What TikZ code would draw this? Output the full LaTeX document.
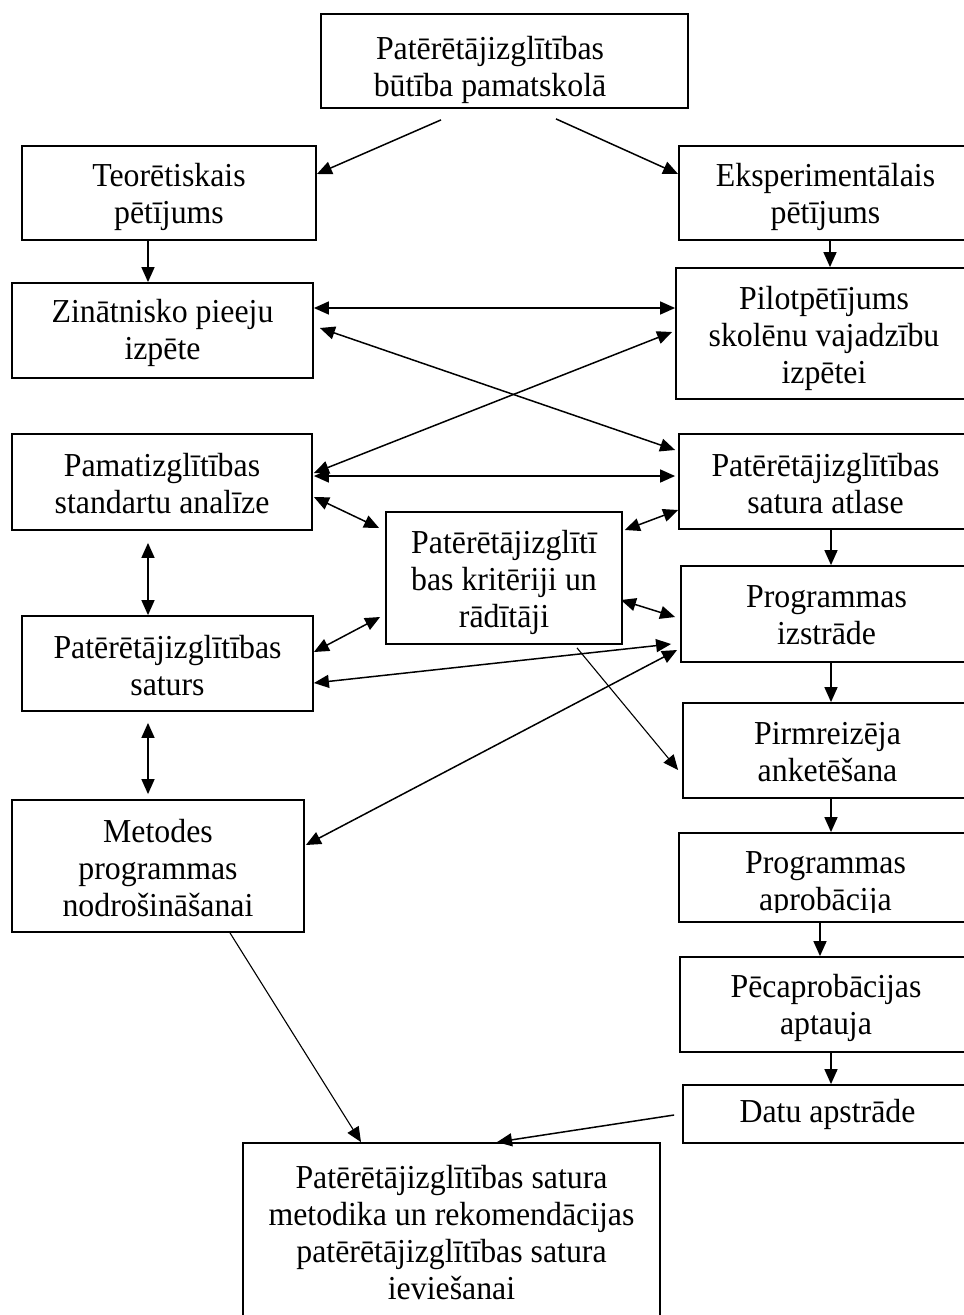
\documentclass[tikz,border=0pt]{standalone}
\usepackage{fontspec}
\setmainfont{Liberation Serif}[FakeStretch=0.95]
\usetikzlibrary{arrows.meta}
% centred block of lines whose baseline is that of its first line
\newcommand\txtblock[1]{\begin{tabular}[t]{@{}c@{}}#1\end{tabular}}
\begin{document}
\begin{tikzpicture}[x=1pt,y=-1pt,
  lbl/.style={inner sep=0pt, anchor=base,
    font=\fontsize{33.5}{37.1}\selectfont},
  box/.style={draw, line width=1.8pt, rectangle, inner sep=0pt},
  head/.tip={Triangle[length=15pt,width=13pt]},
  link/.style={line width=1.5pt, -head},
  both/.style={line width=1.5pt, head-head},
  fine/.style={line width=1.1pt, -head}]
\useasboundingbox (0,0) rectangle (964,1315);
\clip (0,0) rectangle (964,1315);

% boxes
\node[box, minimum width=367pt, minimum height=94pt]  (top)     at (504.5,61)    {};
\node[box, minimum width=294pt, minimum height=94pt]  (teor)    at (169,193)     {};
\node[box, minimum width=301pt, minimum height=95pt]  (zin)     at (162.5,330.5) {};
\node[box, minimum width=300pt, minimum height=96pt]  (pamat)   at (162,482)     {};
\node[box, minimum width=291pt, minimum height=95pt]  (saturs)  at (167.5,663.5) {};
\node[box, minimum width=292pt, minimum height=132pt] (metodes) at (158,866)     {};
\node[box, minimum width=236pt, minimum height=132pt] (krit)    at (504,578)     {};
\node[box, minimum width=417pt, minimum height=187pt] (bottom)  at (451.5,1236.5){};
\node[box, minimum width=293pt, minimum height=94pt]  (eksp)    at (825.5,193)   {};
\node[box, minimum width=296pt, minimum height=131pt] (pilot)   at (824,333.5)   {};
\node[box, minimum width=293pt, minimum height=95pt]  (atlase)  at (825.5,481.5) {};
\node[box, minimum width=291pt, minimum height=96pt]  (izstr)   at (826.5,614)   {};
\node[box, minimum width=289pt, minimum height=95pt]  (pirm)    at (827.5,750.5) {};
\node[box, minimum width=293pt, minimum height=89pt]  (aprob)   at (825.5,877.5) {};
\node[box, minimum width=292pt, minimum height=95pt]  (peca)    at (826,1004.5)  {};
\node[box, minimum width=289pt, minimum height=58pt]  (datu)    at (827.5,1114)  {};

% box texts (placed by the baseline of their first line)
\node[lbl] (toptxt)     at (490,59)    {\txtblock{Patērētājizglītības\\būtība pamatskolā}};
\node[lbl] (teortxt)    at (169,186)   {\txtblock{Teorētiskais\\pētījums}};
\node[lbl] (zintxt)     at (162.5,322.5) {\txtblock{Zinātnisko pieeju\\izpēte}};
\node[lbl] (pamattxt)   at (162,476.5) {\txtblock{Pamatizglītības\\standartu analīze}};
\node[lbl] (saturstxt)  at (167.5,658) {\txtblock{Patērētājizglītības\\saturs}};
\node[lbl] (metodestxt) at (158,842)   {\txtblock{Metodes\\programmas\\nodrošināšanai}};
\node[lbl] (krittxt)    at (504,553.5) {\txtblock{Patērētājizglītī\\bas kritēriji un\\rādītāji}};
\node[lbl] (bottomtxt)  at (451.5,1188) {\txtblock{Patērētājizglītības satura\\metodika un rekomendācijas\\patērētājizglītības satura\\ieviešanai}};
\node[lbl] (eksptxt)    at (825.5,186) {\txtblock{Eksperimentālais\\pētījums}};
\node[lbl] (pilottxt)   at (824,309.5) {\txtblock{Pilotpētījums\\skolēnu vajadzību\\izpētei}};
\node[lbl] (atlasetxt)  at (825.5,476.5) {\txtblock{Patērētājizglītības\\satura atlase}};
\node[lbl] (izstrtxt)   at (826.5,607) {\txtblock{Programmas\\izstrāde}};
\node[lbl] (pirmtxt)    at (827.5,744.5) {\txtblock{Pirmreizēja\\anketēšana}};
\begin{scope}
  % the second line is cut off at the inner margin of the box
  \clip (679,833) rectangle (972,912);
  \node[lbl] (aprobtxt) at (825.5,873.3) {\txtblock{Programmas\\aprobācija}};
\end{scope}
\node[lbl] (pecatxt)    at (826,997)   {\txtblock{Pēcaprobācijas\\aptauja}};
\node[lbl] (datutxt)    at (827.5,1122) {Datu apstrāde};

% connectors
\draw[link] ([xshift=-63.5pt,yshift=-11pt]top.south) -- ([yshift=19pt]teor.east);
\draw[link] ([xshift=51.5pt,yshift=-10pt]top.south) -- ([yshift=19pt]eksp.west);
\draw[link] ([xshift=-21pt]teor.south) -- ([xshift=-14.5pt]zin.north);
\draw[link] ([xshift=4.5pt]eksp.south) -- ([xshift=6pt]pilot.north);
\draw[both] ([yshift=22.5pt]zin.east) -- ([yshift=25.5pt]pilot.west);
\draw[both] ([xshift=6pt,yshift=2.5pt]zin.east) -- ([xshift=-3pt,yshift=31.5pt]atlase.west);
\draw[both] ([xshift=-3pt,yshift=1.5pt]pilot.west) -- ([xshift=1pt,yshift=9pt]pamat.east);
\draw[both] ([xshift=1pt,yshift=6pt]pamat.east) -- ([xshift=-3pt,yshift=5.5pt]atlase.west);
\draw[both] ([xshift=1pt,yshift=-15pt]pamat.east) -- ([xshift=-6pt,yshift=50pt]krit.west);
\draw[both] ([xshift=2pt,yshift=48pt]krit.east) -- ([yshift=-28.5pt]atlase.west);
\draw[link] ([xshift=5.5pt]atlase.south) -- ([xshift=4.5pt]izstr.north);
\draw[both] ([xshift=-14pt,yshift=-12pt]pamat.south) -- ([xshift=-19.5pt]saturs.north);
\draw[both] ([yshift=11.5pt]saturs.east) -- ([xshift=-5pt,yshift=-39pt]krit.west);
\draw[both] ([xshift=-2pt,yshift=-22pt]krit.east) -- ([xshift=-5pt,yshift=-3pt]izstr.west);
\draw[both] ([yshift=-19.5pt]saturs.east) -- ([xshift=-9pt,yshift=-30pt]izstr.west);
\draw[both] ([xshift=1pt,yshift=21pt]metodes.east) -- ([xshift=-3pt,yshift=-36pt]izstr.west);
\draw[fine] ([xshift=73pt,yshift=-3pt]krit.south) -- ([xshift=-4pt,yshift=-19.5pt]pirm.west);
\draw[link] ([xshift=4.5pt]izstr.south) -- ([xshift=3.5pt]pirm.north);
\draw[both] ([xshift=-19.5pt,yshift=-11pt]saturs.south) -- ([xshift=-10pt,yshift=5pt]metodes.north);
\draw[link] ([xshift=3.5pt]pirm.south) -- ([xshift=5.5pt]aprob.north);
\draw[link] ([xshift=-5.5pt]aprob.south) -- ([xshift=-6pt]peca.north);
\draw[link] ([xshift=5pt]peca.south) -- ([xshift=3.5pt]datu.north);
\draw[fine] ([xshift=72pt]metodes.south) -- ([xshift=-90.5pt]bottom.north);
\draw[link] ([xshift=-8pt,yshift=-1pt]datu.west) -- ([xshift=45.5pt]bottom.north);
\end{tikzpicture}
\end{document}
